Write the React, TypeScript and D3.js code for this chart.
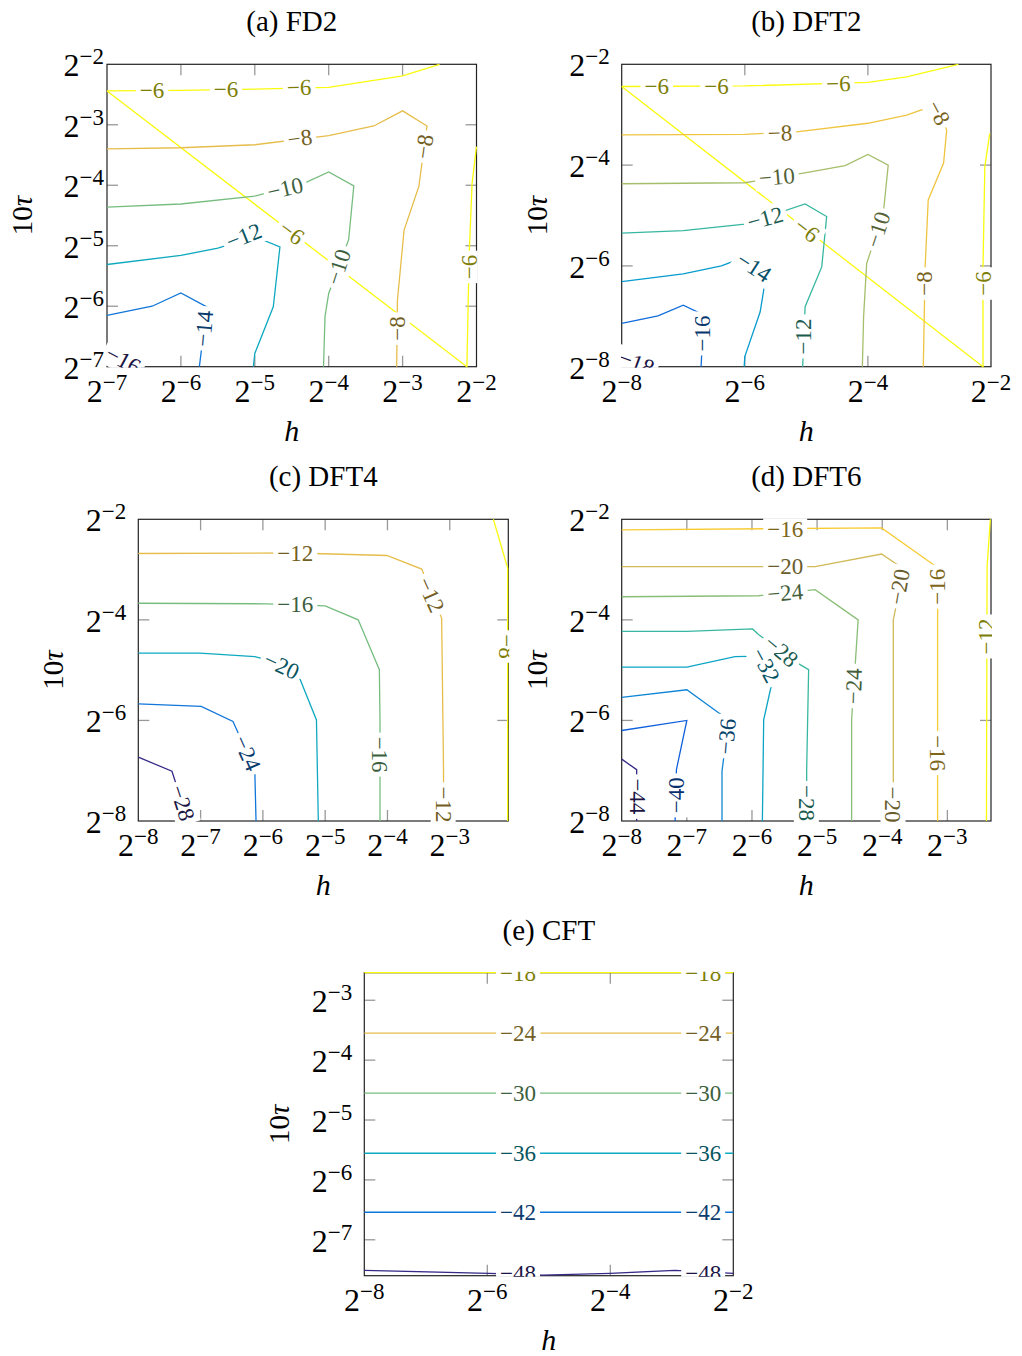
import React, { useRef, useEffect } from 'react';
import * as d3 from 'd3';

type Pt = [number, number];
type Contour = { level: number; pts: Pt[] };
type Label = { level: number; x: number; y: number; angle: number };

// pgfplots "parula" colour map
const parula = ['#352a87', '#0f5cdd', '#127dd8', '#079ccf', '#15b1b4', '#59bd8c', '#a5be6b', '#e1b952', '#fcce2e', '#f9fb0e'];

// every point is [log2 h, log2 10tau]

// (a) FD2
const fd2Levels = [-16, -14, -12, -10, -8, -6];
const fd2Contours: Contour[] = [
  { level: -6, pts: [[-7, -2.44], [-6, -2.43], [-5, -2.41], [-4, -2.38], [-3, -2.19], [-2.5, -2.0]] },
  { level: -6, pts: [[-7, -2.44], [-2.13, -7], [-2.1, -5.18], [-2.06, -3.97], [-2.0, -3.36]] },
  { level: -8, pts: [[-7, -3.4], [-6, -3.38], [-5, -3.33], [-4, -3.18], [-3.39, -3.02], [-3, -2.77], [-2.67, -3.02], [-2.78, -4.02], [-2.98, -4.74], [-3.07, -5.9], [-3.08, -7]] },
  { level: -10, pts: [[-7, -4.36], [-6, -4.31], [-5, -4.18], [-4.32, -3.96], [-4, -3.78], [-3.66, -4.01], [-3.73, -4.9], [-4, -5.79], [-4.05, -6.17], [-4.07, -7]] },
  { level: -12, pts: [[-7, -5.31], [-6, -5.16], [-5.5, -5.04], [-5, -4.85], [-4.66, -5.02], [-4.75, -6.01], [-5, -6.78], [-5.02, -7]] },
  { level: -14, pts: [[-7, -6.15], [-6.39, -6.0], [-6, -5.78], [-5.65, -6.01], [-5.75, -7]] },
  { level: -16, pts: [[-7, -6.78], [-6.5, -7.02]] },
];
const fd2Labels: Label[] = [
  { level: -6, x: -6.39, y: -2.43, angle: 0 },
  { level: -6, x: -5.39, y: -2.41, angle: 0 },
  { level: -6, x: -4.4, y: -2.38, angle: -1 },
  { level: -6, x: -4.5, y: -4.78, angle: 37 },
  { level: -6, x: -2.1, y: -5.35, angle: -90 },
  { level: -8, x: -4.39, y: -3.22, angle: -8 },
  { level: -8, x: -2.71, y: -3.36, angle: -82 },
  { level: -8, x: -3.075, y: -6.37, angle: -90 },
  { level: -10, x: -4.59, y: -4.05, angle: -13 },
  { level: -10, x: -3.87, y: -5.35, angle: -72 },
  { level: -12, x: -5.15, y: -4.84, angle: -22 },
  { level: -14, x: -5.69, y: -6.37, angle: -85 },
  { level: -16, x: -6.78, y: -6.89, angle: 28 },
];

// (b) DFT2
const dft2Levels = [-18, -16, -14, -12, -10, -8, -6];
const dft2Contours: Contour[] = [
  { level: -6, pts: [[-8, -2.44], [-6, -2.43], [-4, -2.36], [-3.37, -2.25], [-2.53, -2.0]] },
  { level: -6, pts: [[-8, -2.44], [-2.13, -8], [-2.13, -6.02], [-2.1, -4.03], [-2.02, -3.37]] },
  { level: -8, pts: [[-8, -3.4], [-6, -3.39], [-5.16, -3.34], [-4, -3.17], [-3.37, -3.01], [-2.91, -2.81], [-2.72, -3.3], [-2.77, -3.96], [-3.02, -4.69], [-3.07, -6.02], [-3.1, -8]] },
  { level: -10, pts: [[-8, -4.37], [-6, -4.35], [-5.05, -4.16], [-4.37, -4.01], [-4, -3.79], [-3.67, -4.0], [-3.75, -4.96], [-4.02, -5.95], [-4.07, -7.01], [-4.09, -8]] },
  { level: -12, pts: [[-8, -5.35], [-7, -5.3], [-6, -5.17], [-5.02, -4.77], [-4.67, -5.02], [-4.75, -6.02], [-5.02, -6.81], [-5.06, -8]] },
  { level: -14, pts: [[-8, -6.31], [-7, -6.16], [-6.38, -6.0], [-6.1, -5.87], [-5.67, -6.31], [-5.75, -6.91], [-6, -7.8], [-6.01, -8]] },
  { level: -16, pts: [[-8, -7.14], [-7.41, -6.99], [-7, -6.78], [-6.67, -6.97], [-6.71, -8]] },
  { level: -18, pts: [[-8, -7.79], [-7.5, -8.02]] },
];
const dft2Labels: Label[] = [
  { level: -6, x: -7.43, y: -2.44, angle: 0 },
  { level: -6, x: -6.46, y: -2.43, angle: 0 },
  { level: -6, x: -4.48, y: -2.38, angle: -1 },
  { level: -6, x: -4.99, y: -5.29, angle: 38 },
  { level: -6, x: -2.13, y: -6.35, angle: -90 },
  { level: -8, x: -5.43, y: -3.36, angle: -2 },
  { level: -8, x: -2.85, y: -2.96, angle: 62 },
  { level: -8, x: -3.09, y: -6.35, angle: -90 },
  { level: -10, x: -5.48, y: -4.23, angle: -5 },
  { level: -10, x: -3.84, y: -5.28, angle: -72 },
  { level: -12, x: -5.67, y: -5.05, angle: -15 },
  { level: -12, x: -5.05, y: -7.4, angle: -90 },
  { level: -14, x: -5.85, y: -6.02, angle: 33 },
  { level: -16, x: -6.7, y: -7.34, angle: -90 },
  { level: -18, x: -7.76, y: -7.92, angle: 20 },
];

// (c) DFT4
const dft4Levels = [-28, -24, -20, -16, -12, -8];
const dft4Contours: Contour[] = [
  { level: -8, pts: [[-2.3, -2], [-2.07, -2.97], [-2.07, -8]] },
  { level: -12, pts: [[-8, -2.68], [-5.48, -2.67], [-4.01, -2.72], [-3.45, -2.99], [-3.13, -3.97], [-3.1, -6.98], [-3.1, -8]] },
  { level: -16, pts: [[-8, -3.67], [-5.94, -3.68], [-5.0, -3.72], [-4.47, -4.0], [-4.13, -4.99], [-4.12, -5.99], [-4.12, -8]] },
  { level: -20, pts: [[-8, -4.66], [-7.01, -4.66], [-6.13, -4.73], [-5.72, -4.86], [-5.4, -5.19], [-5.14, -5.99], [-5.11, -8]] },
  { level: -24, pts: [[-8, -5.67], [-6.99, -5.72], [-6.48, -6.02], [-6.13, -6.98], [-6.11, -8]] },
  { level: -28, pts: [[-8, -6.73], [-7.46, -7.01], [-7.2, -8]] },
];
const dft4Labels: Label[] = [
  { level: -8, x: -2.09, y: -4.53, angle: 90 },
  { level: -12, x: -5.48, y: -2.67, angle: 0 },
  { level: -12, x: -3.3, y: -3.5, angle: 66 },
  { level: -12, x: -3.1, y: -7.67, angle: 90 },
  { level: -16, x: -5.48, y: -3.68, angle: 0 },
  { level: -16, x: -4.12, y: -6.68, angle: 90 },
  { level: -20, x: -5.7, y: -4.91, angle: 25 },
  { level: -24, x: -6.25, y: -6.65, angle: 66 },
  { level: -28, x: -7.29, y: -7.64, angle: 72 },
];

// (d) DFT6
const dft6Levels = [-44, -40, -36, -32, -28, -24, -20, -16, -12];
const dft6Contours: Contour[] = [
  { level: -12, pts: [[-2.34, -2], [-2.39, -2.94], [-2.4, -8]] },
  { level: -16, pts: [[-8, -2.21], [-4.01, -2.17], [-3.14, -2.97], [-3.15, -4], [-3.15, -8]] },
  { level: -20, pts: [[-8, -2.94], [-5.03, -2.94], [-4.01, -2.69], [-3.67, -2.99], [-3.83, -4], [-3.83, -8]] },
  { level: -24, pts: [[-8, -3.54], [-5.9, -3.52], [-5.03, -3.4], [-4.37, -4.0], [-4.47, -5.99], [-4.47, -8]] },
  { level: -28, pts: [[-8, -4.23], [-7, -4.23], [-5.99, -4.18], [-5.9, -4.29], [-5.26, -4.89], [-5.13, -4.99], [-5.16, -6.98], [-5.16, -8]] },
  { level: -32, pts: [[-8, -4.94], [-7, -4.94], [-6.26, -4.73], [-5.88, -4.72], [-5.7, -5.29], [-5.82, -5.99], [-5.84, -8]] },
  { level: -36, pts: [[-8, -5.54], [-7, -5.39], [-6.36, -5.99], [-6.46, -7.01], [-6.46, -8]] },
  { level: -40, pts: [[-8, -6.2], [-7, -6.0], [-7.16, -6.98], [-7.18, -8]] },
  { level: -44, pts: [[-8, -6.77], [-7.77, -6.98], [-7.77, -8]] },
];
const dft6Labels: Label[] = [
  { level: -12, x: -2.41, y: -4.33, angle: -90 },
  { level: -16, x: -5.49, y: -2.2, angle: 0 },
  { level: -16, x: -3.15, y: -3.34, angle: -90 },
  { level: -16, x: -3.15, y: -6.65, angle: 90 },
  { level: -20, x: -5.49, y: -2.94, angle: 0 },
  { level: -20, x: -3.74, y: -3.34, angle: -80 },
  { level: -20, x: -3.83, y: -7.67, angle: 90 },
  { level: -24, x: -5.49, y: -3.46, angle: -5 },
  { level: -24, x: -4.44, y: -5.32, angle: -88 },
  { level: -28, x: -5.55, y: -4.62, angle: 40 },
  { level: -28, x: -5.16, y: -7.64, angle: 90 },
  { level: -32, x: -5.79, y: -4.9, angle: 62 },
  { level: -36, x: -6.39, y: -6.32, angle: -85 },
  { level: -40, x: -7.17, y: -7.49, angle: -90 },
  { level: -44, x: -7.76, y: -7.51, angle: 90 },
];

// (e) CFT
const cftLevels = [-48, -42, -36, -30, -24, -18];
const cftContours: Contour[] = [
  { level: -18, pts: [[-8, -2.54], [-2, -2.54]] },
  { level: -24, pts: [[-8, -3.55], [-2, -3.55]] },
  { level: -30, pts: [[-8, -4.55], [-2, -4.55]] },
  { level: -36, pts: [[-8, -5.555], [-2, -5.555]] },
  { level: -42, pts: [[-8, -6.54], [-2, -6.54]] },
  { level: -48, pts: [[-8, -7.51], [-5.98, -7.56], [-5.1, -7.59], [-4, -7.56], [-2.95, -7.51], [-2, -7.56]] },
];
const cftLabels: Label[] = [
  { level: -18, x: -5.5, y: -2.54, angle: 0 },
  { level: -18, x: -2.49, y: -2.54, angle: 0 },
  { level: -24, x: -5.5, y: -3.55, angle: 0 },
  { level: -24, x: -2.49, y: -3.55, angle: 0 },
  { level: -30, x: -5.5, y: -4.55, angle: 0 },
  { level: -30, x: -2.49, y: -4.55, angle: 0 },
  { level: -36, x: -5.5, y: -5.55, angle: 0 },
  { level: -36, x: -2.49, y: -5.55, angle: 0 },
  { level: -42, x: -5.5, y: -6.54, angle: 0 },
  { level: -42, x: -2.49, y: -6.54, angle: 0 },
  { level: -48, x: -5.5, y: -7.55, angle: 0 },
  { level: -48, x: -2.49, y: -7.55, angle: 0 },
];

interface Panel {
  title: string;
  left: number; right: number; top: number; bottom: number;
  xDomain: [number, number]; yDomain: [number, number];
  xTicks: number[]; yTicks: number[];
  levels: number[]; contours: Contour[]; labels: Label[];
  yGap: number;
}

const panels: Panel[] = [
  { title: '(a) FD2', left: 107, right: 476.5, top: 64.3, bottom: 366.7, xDomain: [-7, -2], yDomain: [-7, -2],
    xTicks: [-7, -6, -5, -4, -3, -2], yTicks: [-7, -6, -5, -4, -3, -2], levels: fd2Levels, contours: fd2Contours, labels: fd2Labels, yGap: 3 },
  { title: '(b) DFT2', left: 621.7, right: 991, top: 64.3, bottom: 366.7, xDomain: [-8, -2], yDomain: [-8, -2],
    xTicks: [-8, -6, -4, -2], yTicks: [-8, -6, -4, -2], levels: dft2Levels, contours: dft2Contours, labels: dft2Labels, yGap: 12 },
  { title: '(c) DFT4', left: 138.3, right: 508.3, top: 519.3, bottom: 821, xDomain: [-8, -2.06], yDomain: [-8, -2],
    xTicks: [-8, -7, -6, -5, -4, -3], yTicks: [-8, -6, -4, -2], levels: dft4Levels, contours: dft4Contours, labels: dft4Labels, yGap: 12 },
  { title: '(d) DFT6', left: 621.7, right: 991, top: 519.3, bottom: 821, xDomain: [-8, -2.33], yDomain: [-8, -2],
    xTicks: [-8, -7, -6, -5, -4, -3], yTicks: [-8, -6, -4, -2], levels: dft6Levels, contours: dft6Contours, labels: dft6Labels, yGap: 12 },
  { title: '(e) CFT', left: 364.3, right: 733.3, top: 972.7, bottom: 1275.7, xDomain: [-8, -2], yDomain: [-7.6, -2.54],
    xTicks: [-8, -6, -4, -2], yTicks: [-7, -6, -5, -4, -3], levels: cftLevels, contours: cftContours, labels: cftLabels, yGap: 12 },
];

const FONT = '"Liberation Serif", "Times New Roman", serif';

const App = () => {
  const ref = useRef<SVGSVGElement>(null);

  useEffect(() => {
    if (!ref.current) return;
    const svg = d3.select(ref.current);
    svg.selectAll('*').remove();
    const defs = svg.append('defs');
    const cmap = d3.piecewise(d3.interpolateRgb, parula);

    panels.forEach((p, i) => {
      const x = d3.scaleLinear().domain(p.xDomain).range([p.left, p.right]);
      const y = d3.scaleLinear().domain(p.yDomain).range([p.bottom, p.top]);
      const lo = d3.min(p.levels)!;
      const hi = d3.max(p.levels)!;
      const col = (v: number) => cmap((v - lo) / (hi - lo));
      const g = svg.append('g');

      g.append('text')
        .attr('x', (p.left + p.right) / 2).attr('y', p.top - 33)
        .attr('text-anchor', 'middle').attr('font-size', 29)
        .text(p.title);

      // inner tick marks on all four sides
      const tl = 11;
      p.xTicks.filter(t => x(t) > p.left + 1 && x(t) < p.right - 1).forEach(t => {
        g.append('line').attr('x1', x(t)).attr('x2', x(t)).attr('y1', p.bottom).attr('y2', p.bottom - tl)
          .attr('stroke', '#999').attr('stroke-width', 1.3);
        g.append('line').attr('x1', x(t)).attr('x2', x(t)).attr('y1', p.top).attr('y2', p.top + tl)
          .attr('stroke', '#999').attr('stroke-width', 1.3);
      });
      p.yTicks.filter(t => y(t) > p.top + 1 && y(t) < p.bottom - 1).forEach(t => {
        g.append('line').attr('y1', y(t)).attr('y2', y(t)).attr('x1', p.left).attr('x2', p.left + tl)
          .attr('stroke', '#999').attr('stroke-width', 1.3);
        g.append('line').attr('y1', y(t)).attr('y2', y(t)).attr('x1', p.right).attr('x2', p.right - tl)
          .attr('stroke', '#999').attr('stroke-width', 1.3);
      });

      // tick labels 2^{k}
      p.xTicks.forEach(t => {
        const tx = g.append('text').attr('x', x(t)).attr('y', p.bottom + 35).attr('text-anchor', 'middle').attr('font-size', 32);
        tx.append('tspan').text('2');
        tx.append('tspan').attr('font-size', 23).attr('dy', -12).text(`−${-t}`);
      });
      p.yTicks.forEach(t => {
        const ty = g.append('text').attr('x', p.left - p.yGap).attr('y', y(t) + 12).attr('text-anchor', 'end').attr('font-size', 32);
        ty.append('tspan').text('2');
        ty.append('tspan').attr('font-size', 23).attr('dy', -12).text(`−${-t}`);
      });

      // axis titles
      g.append('text')
        .attr('x', (p.left + p.right) / 2).attr('y', p.bottom + 74)
        .attr('text-anchor', 'middle').attr('font-size', 30).attr('font-style', 'italic')
        .text('h');
      const yl = g.append('text')
        .attr('transform', `translate(${p.left - 75},${(p.top + p.bottom) / 2}) rotate(-90)`)
        .attr('text-anchor', 'middle').attr('font-size', 29);
      yl.append('tspan').text('10');
      yl.append('tspan').attr('font-style', 'italic').text('τ');

      // frame
      g.append('rect')
        .attr('x', p.left).attr('y', p.top)
        .attr('width', p.right - p.left).attr('height', p.bottom - p.top)
        .attr('fill', 'none').attr('stroke', '#222').attr('stroke-width', 1.2);

      const cid = `clip-${i}`;
      defs.append('clipPath').attr('id', cid).append('rect')
        .attr('x', p.left - 1).attr('y', p.top - 1)
        .attr('width', p.right - p.left + 2).attr('height', p.bottom - p.top + 2);
      const inner = g.append('g').attr('clip-path', `url(#${cid})`);

      const line = d3.line<Pt>().x(d => x(d[0])).y(d => y(d[1]));
      inner.selectAll('path')
        .data(p.contours)
        .join('path')
        .attr('d', d => line(d.pts))
        .attr('fill', 'none')
        .attr('stroke', d => col(d.level))
        .attr('stroke-width', 1.3);

      p.labels.forEach(l => {
        const lg = inner.append('g').attr('transform', `translate(${x(l.x)},${y(l.y)}) rotate(${l.angle})`);
        const r = lg.append('rect').attr('fill', 'white');
        const t = lg.append('text')
          .attr('text-anchor', 'middle').attr('dy', '0.34em').attr('font-size', 23)
          .attr('fill', d3.interpolateRgb(col(l.level), '#000')(0.5))
          .text(`−${-l.level}`);
        const bb = (t.node() as SVGTextElement).getBBox();
        r.attr('x', bb.x - 4).attr('y', bb.y).attr('width', bb.width + 8).attr('height', bb.height);
      });
    });
  }, []);

  return (
    <svg ref={ref} width={1022} height={1356}
      style={{ position: 'absolute', left: 0, top: 0, fontFamily: FONT, background: 'white' }} />
  );
};

export default App;
